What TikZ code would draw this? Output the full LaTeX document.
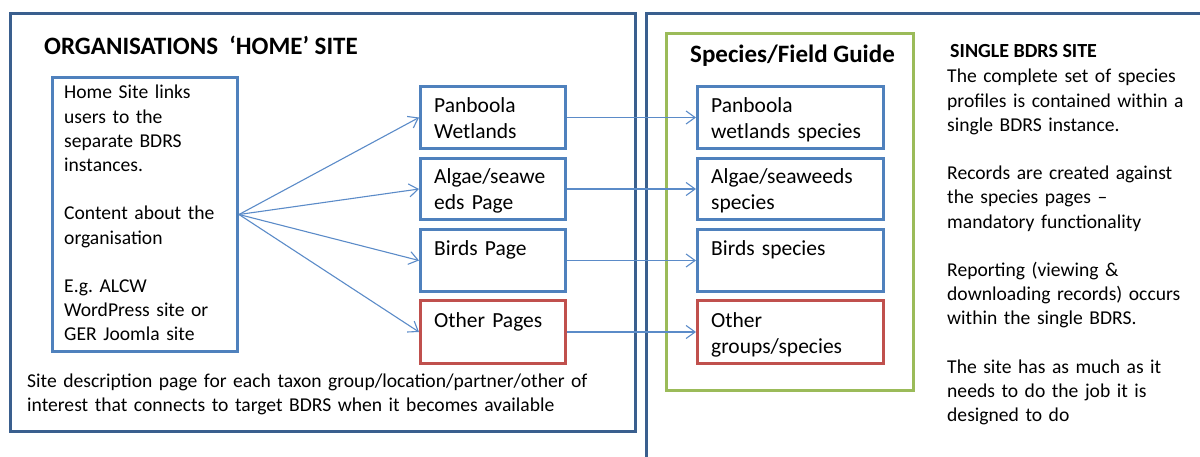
\documentclass[tikz,border=0pt]{standalone}
\usepackage{fontspec}
\setmainfont{Carlito}
\usetikzlibrary{arrows.meta}
\frenchspacing
\definecolor{outerblue}{HTML}{3A5F8E}
\definecolor{boxblue}{HTML}{4F81BD}
\definecolor{boxred}{HTML}{C0504D}
\definecolor{boxgreen}{HTML}{9BBB59}
\definecolor{arrblue}{HTML}{5B8BC8}
\begin{document}
\begin{tikzpicture}[x=1pt,y=-1pt,
  outerframe/.style={draw=outerblue,line width=3pt},
  bluebox/.style={draw=boxblue,line width=3pt,inner sep=0pt,anchor=north west},
  redbox/.style={draw=boxred,line width=3pt,inner sep=0pt,anchor=north west},
  greenbox/.style={draw=boxgreen,line width=3pt},
  body/.style={inner sep=0pt,anchor=base west,align=left,font=\fontsize{19.6}{24.2}\selectfont},
  boxtext/.style={inner sep=0pt,anchor=base west,align=left,text width=180pt,font=\fontsize{21.5}{26}\selectfont},
  arr/.style={draw=arrblue,line width=1.1pt,-{Straight Barb[length=9pt,width=13pt,line width=1.1pt]}}
]
\useasboundingbox (0,0) rectangle (1200,457);
% frames
\draw[outerframe] (10,14) rectangle (635,431);
\coordinate (rb1) at (646,470);
\coordinate (rb2) at (646,14);
\coordinate (rb3) at (1210,14);
\draw[outerframe] (rb1) -- (rb2) -- (rb3);
\draw[greenbox] (666,34) rectangle (913,390);
% titles
\node[inner sep=0pt,anchor=base west,font=\fontsize{25}{30}\selectfont\bfseries] (title1) at (44,55) {ORGANISATIONS\ \ ‘HOME’ SITE};
\node[inner sep=0pt,anchor=base west,font=\fontsize{25}{30}\selectfont\bfseries] (title2) at (690,63) {Species/Field Guide};
\node[inner sep=0pt,anchor=base west,font=\fontsize{20}{24}\selectfont\bfseries] (title3) at (950,58) {SINGLE BDRS SITE};
% home box
\node[bluebox,minimum width=185pt,minimum height=274pt] (home) at (51,76) {};
\node[body,text width=170pt] (hometext) at (64,99) {Home Site links\\users to the\\separate BDRS\\instances.\\[24.2pt]Content about the\\organisation\\[24.2pt]E.g. ALCW\\WordPress site or\\GER Joomla site};
\node[body,text width=600pt] (bottomtext) at (27,387) {Site description page for each taxon group/location/partner/other of\\interest that connects to target BDRS when it becomes available};
% middle boxes
\node[bluebox,minimum width=145pt,minimum height=62pt] (m1) at (419,85) {};
\node[bluebox,minimum width=145pt,minimum height=61pt] (m2) at (419,157) {};
\node[bluebox,minimum width=145pt,minimum height=62pt] (m3) at (419,228) {};
\node[redbox,minimum width=145pt,minimum height=63pt] (m4) at (419,299) {};
\node[boxtext] (m1t) at (434,113) {Panboola\\Wetlands};
\node[boxtext] (m2t) at (434,184) {Algae/seawe\\eds Page};
\node[boxtext] (m3t) at (434,255) {Birds Page};
\node[boxtext] (m4t) at (434,327) {Other Pages};
% right boxes
\node[bluebox,minimum width=186pt,minimum height=62pt] (r1) at (696,85) {};
\node[bluebox,minimum width=186pt,minimum height=61pt] (r2) at (696,157) {};
\node[bluebox,minimum width=186pt,minimum height=62pt] (r3) at (696,228) {};
\node[redbox,minimum width=186pt,minimum height=63pt] (r4) at (696,299) {};
\node[boxtext] (r1t) at (711,113) {Panboola\\wetlands species};
\node[boxtext] (r2t) at (711,184) {Algae/seaweeds\\species};
\node[boxtext] (r3t) at (711,255) {Birds species};
\node[boxtext] (r4t) at (711,327) {Other\\groups/species};
% right description
\node[body,text width=250pt] (desc) at (947,83) {The complete set of species\\profiles is contained within a\\single BDRS instance.\\[24.2pt]Records are created against\\the species pages –\\mandatory functionality\\[24.2pt]Reporting (viewing \&\\downloading records) occurs\\within the single BDRS.\\[24.2pt]The site has as much as it\\needs to do the job it is\\designed to do};
% connectors
\foreach \i in {1,2,3,4} {
  \draw[arr] (home.east) -- (m\i.west);
  \draw[arr] (m\i.east) -- (r\i.west);
}
\end{tikzpicture}
\end{document}
